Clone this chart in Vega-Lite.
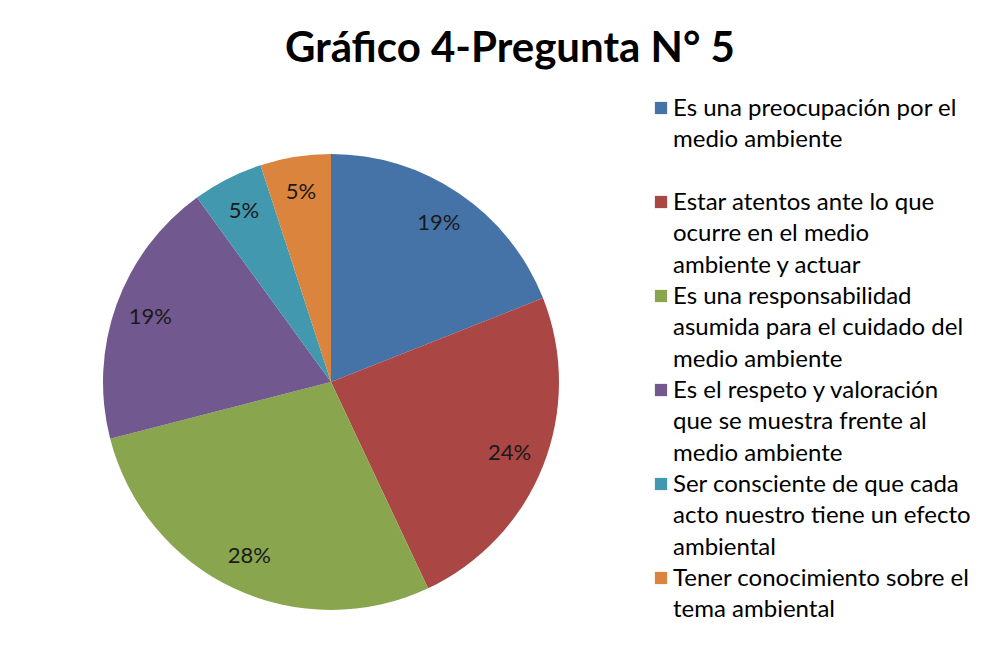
{
  "$schema": "https://vega.github.io/schema/vega-lite/v6.json",
  "autosize": {"type": "none"},
  "padding": {"left": 12, "top": 90, "right": 358, "bottom": 0},
  "width": 638,
  "height": 584,
  "background": "white",
  "config": {"view": {"stroke": null}},
  "title": {
    "text": "Gráfico 4-Pregunta N° 5",
    "font": "Lato",
    "fontSize": 42,
    "fontWeight": "bold",
    "color": "#000000",
    "anchor": "middle",
    "frame": "group",
    "baseline": "alphabetic",
    "offset": -14,
    "dx": 179
  },
  "data": {
    "values": [
      {"n": 1, "respuesta": "Es una preocupación por el\nmedio ambiente\n ", "valor": 0.19},
      {"n": 2, "respuesta": "Estar atentos ante lo que\nocurre en el  medio\nambiente y actuar", "valor": 0.24},
      {"n": 3, "respuesta": "Es una responsabilidad\nasumida para el cuidado del\nmedio ambiente", "valor": 0.28},
      {"n": 4, "respuesta": "Es el respeto y valoración\nque se muestra frente al\nmedio ambiente", "valor": 0.19},
      {"n": 5, "respuesta": "Ser consciente de que cada\nacto nuestro tiene un efecto\nambiental", "valor": 0.05},
      {"n": 6, "respuesta": "Tener conocimiento sobre el\ntema ambiental", "valor": 0.05}
    ]
  },
  "encoding": {
    "theta": {"field": "valor", "type": "quantitative", "stack": true},
    "order": {"field": "n", "type": "quantitative"}
  },
  "layer": [
    {
      "mark": {"type": "arc", "outerRadius": 228},
      "encoding": {
        "color": {
          "field": "respuesta",
          "type": "nominal",
          "sort": null,
          "scale": {
            "domain": [
              "Es una preocupación por el\nmedio ambiente\n ",
              "Estar atentos ante lo que\nocurre en el  medio\nambiente y actuar",
              "Es una responsabilidad\nasumida para el cuidado del\nmedio ambiente",
              "Es el respeto y valoración\nque se muestra frente al\nmedio ambiente",
              "Ser consciente de que cada\nacto nuestro tiene un efecto\nambiental",
              "Tener conocimiento sobre el\ntema ambiental"
            ],
            "range": ["#4572A7", "#AA4643", "#89A54E", "#71588F", "#4198AF", "#DB843D"]
          },
          "legend": {
            "title": null,
            "orient": "none",
            "legendX": 637,
            "legendY": 6,
            "symbolType": "square",
            "symbolSize": 150,
            "symbolStrokeWidth": 0,
            "labelFont": "Lato",
            "labelFontSize": 24,
            "labelColor": "#000000",
            "labelLimit": 400,
            "labelOffset": 0,
            "rowPadding": 6,
            "labelExpr": "split(datum.label, '\\n')",
            "labelBaseline": "top",
            "encode": {"labels": {"update": {"lineHeight": {"value": 31.3}, "dy": {"value": -11}}}}
          }
        }
      }
    },
    {
      "mark": {"type": "text", "radius": 192, "font": "Lato", "fontSize": 22, "color": "#1a1a1a"},
      "encoding": {
        "text": {"field": "valor", "type": "quantitative", "format": ".0%"},
        "detail": {"field": "respuesta", "type": "nominal"}
      }
    }
  ]
}
